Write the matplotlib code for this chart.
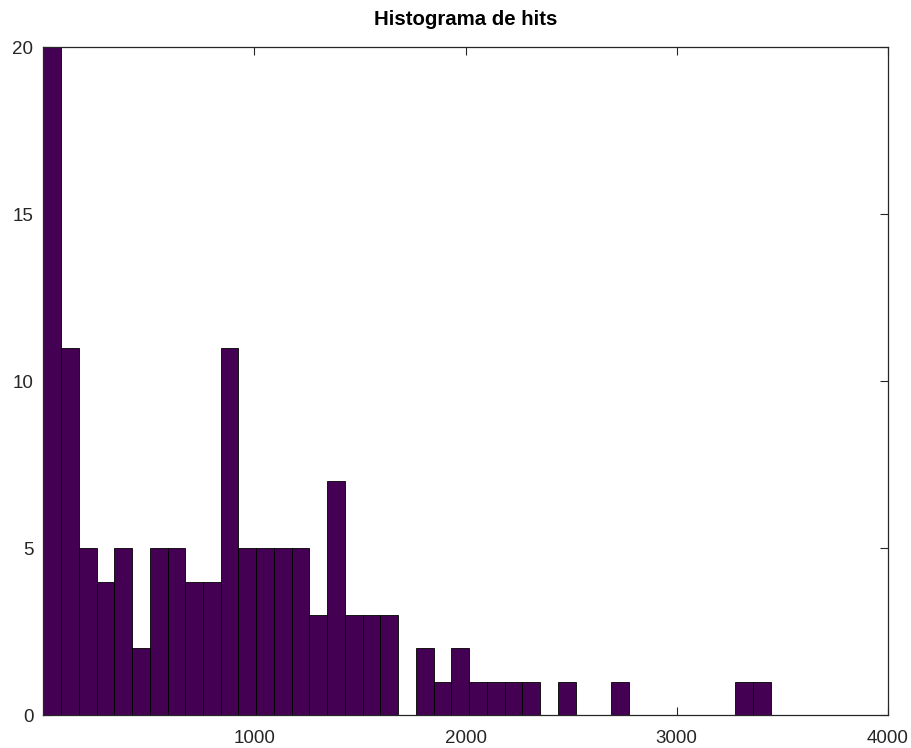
import numpy as np
import matplotlib
matplotlib.use("Agg")
import matplotlib.pyplot as plt

# Histogram counts per bin (41 equal-width bins)
bin_start = 1
bin_width = 84
counts = [20, 11, 5, 4, 5, 2, 5, 5, 4, 4,
          11, 5, 5, 5, 5, 3, 7, 3, 3, 3,
          0, 2, 1, 2, 1, 1, 1, 1, 0, 1,
          0, 0, 1, 0, 0, 0, 0, 0, 0, 1,
          1]
x_ticks = [1000, 2000, 3000, 4000]
y_ticks = [0, 5, 10, 15, 20]
title = "Histograma de hits"

plt.rcParams['font.family'] = ['Liberation Sans', 'DejaVu Sans']

edges = bin_start + bin_width * np.arange(len(counts) + 1)

fig = plt.figure(figsize=(9.12, 7.48), dpi=100)
ax = fig.add_axes([0.0473, 0.0441, 0.9263, 0.8924])

ax.bar(edges[:-1], counts, width=np.diff(edges), align='edge',
       color='#440154', edgecolor='black', linewidth=0.6, zorder=2)

ax.set_xlim(0, 4000)
ax.set_ylim(0, 20)
ax.set_xticks(x_ticks)
ax.set_yticks(y_ticks)
ax.tick_params(direction='in', length=6, width=0.8, top=True, right=True,
               labelsize=13.5, colors='#262626')
ax.tick_params(axis='x', pad=11)
ax.tick_params(axis='y', pad=7)
for s in ax.spines.values():
    s.set_color('#262626')
    s.set_linewidth(0.9)
ax.set_title(title, fontsize=14.7, fontweight='bold', pad=16)

fig.savefig("out.png", dpi=100)
